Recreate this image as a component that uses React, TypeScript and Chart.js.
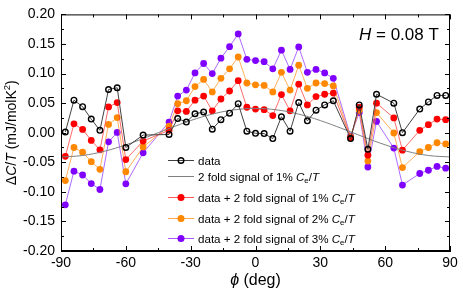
import React, { useEffect, useRef } from "react";
import { Chart, registerables } from "chart.js";
Chart.register(...registerables);

// angle phi (deg)
const angles = [-88, -84, -80, -76, -72, -68, -64, -60, -52, -40, -36, -32, -28, -24, -20, -16, -12, -8, -4, 0, 4, 8, 12, 16, 20, 24, 28, 32, 36, 44, 48, 52, 56, 64, 68, 76, 80, 84, 88];
const dataVals = [0.001, 0.055, 0.044, 0.023, 0.004, 0.073, 0.076, -0.025, -0.004, -0.003, 0.024, 0.018, 0.032, 0.035, 0.006, 0.022, 0.033, 0.049, 0.0025, -0.001, -0.0015, -0.010, 0.027, 0.0025, 0.051, 0.020, 0.038, 0.047, 0.054, -0.010, 0.047, -0.028, 0.065, 0.050, 0.000, 0.040, 0.052, 0.063, 0.063];
const red1 = [-0.040, 0.015, 0.0055, -0.013, -0.029, 0.0435, 0.051, -0.0455, -0.014, 0.004, 0.037, 0.036, 0.055, 0.062, 0.037, 0.057, 0.0705, 0.088, 0.043, 0.040, 0.039, 0.029, 0.0645, 0.037, 0.082, 0.047, 0.061, 0.065, 0.067, -0.0086, 0.043, -0.038, 0.050, 0.025, -0.0295, 0.004, 0.0135, 0.023, 0.022];
const orange2 = [-0.081, -0.025, -0.033, -0.049, -0.062, 0.014, 0.0255, -0.066, -0.024, 0.011, 0.049, 0.054, 0.078, 0.090, 0.069, 0.092, 0.108, 0.128, 0.084, 0.081, 0.080, 0.069, 0.102, 0.072, 0.114, 0.075, 0.084, 0.083, 0.079, -0.007, 0.038, -0.048, 0.034, -0.0005, -0.059, -0.032, -0.025, -0.017, -0.019];
const purple3 = [-0.122, -0.065, -0.0715, -0.086, -0.096, -0.0155, 0.0004, -0.0865, -0.034, 0.018, 0.062, 0.072, 0.101, 0.117, 0.100, 0.126, 0.1455, 0.167, 0.124, 0.122, 0.120, 0.108, 0.1395, 0.107, 0.145, 0.102, 0.107, 0.101, 0.092, -0.006, 0.034, -0.058, 0.019, -0.026, -0.0885, -0.069, -0.0635, -0.057, -0.060];
// smooth 2-fold signal curve
const signalAngles = [-90, -80, -70, -60, -50, -40, -30, -20, -10, 0, 10, 20, 30, 40, 50, 60, 70, 80, 90];
const signalVals = [-0.041, -0.0385, -0.0314, -0.0205, -0.0071, 0.0071, 0.0205, 0.0314, 0.0385, 0.041, 0.0385, 0.0314, 0.0205, 0.0071, -0.0071, -0.0205, -0.0314, -0.0385, -0.041];

const xMajor = [-90, -60, -30, 0, 30, 60, 90];
const xMinor = [-75, -45, -15, 15, 45, 75];
const yMajor = [-0.2, -0.15, -0.1, -0.05, 0, 0.05, 0.1, 0.15, 0.2];
const yMinor = [-0.175, -0.125, -0.075, -0.025, 0.025, 0.075, 0.125, 0.175];

type Seg = { t: string; i?: boolean; sub?: boolean; sup?: boolean };
const legendLabels: Seg[][] = [
  [{ t: "data" }],
  [{ t: "2 fold signal of 1% " }, { t: "C", i: true }, { t: "e", sub: true }, { t: "/" }, { t: "T", i: true }],
  [{ t: "data + 2 fold signal of 1% " }, { t: "C", i: true }, { t: "e", sub: true }, { t: "/" }, { t: "T", i: true }],
  [{ t: "data + 2 fold signal of 2% " }, { t: "C", i: true }, { t: "e", sub: true }, { t: "/" }, { t: "T", i: true }],
  [{ t: "data + 2 fold signal of 3% " }, { t: "C", i: true }, { t: "e", sub: true }, { t: "/" }, { t: "T", i: true }],
];
const yTitle: Seg[] = [{ t: "Δ" }, { t: "C", i: true }, { t: "/" }, { t: "T", i: true }, { t: " (mJ/molK" }, { t: "2", sup: true }, { t: ")" }];
const xTitle: Seg[] = [{ t: "ϕ", i: true }, { t: " (deg)" }];
const fieldLabel: Seg[] = [{ t: "H", i: true }, { t: " = 0.08 T" }];

const FONT = "'Liberation Sans', Arial, sans-serif";

function segFont(s: Seg, size: number) {
  const sz = s.sub || s.sup ? size * 0.68 : size;
  return `${s.i ? "italic " : ""}${sz}px ${FONT}`;
}
function richWidth(ctx: CanvasRenderingContext2D, segs: Seg[], size: number) {
  let w = 0;
  for (const s of segs) {
    ctx.font = segFont(s, size);
    w += ctx.measureText(s.t).width;
  }
  return w;
}
function drawRich(ctx: CanvasRenderingContext2D, segs: Seg[], x: number, y: number, size: number, align: "left" | "center") {
  let cx = align === "center" ? x - richWidth(ctx, segs, size) / 2 : x;
  ctx.textBaseline = "alphabetic";
  ctx.textAlign = "left";
  for (const s of segs) {
    ctx.font = segFont(s, size);
    const dy = s.sub ? size * 0.25 : s.sup ? -size * 0.4 : 0;
    ctx.fillText(s.t, cx, y + dy);
    cx += ctx.measureText(s.t).width;
  }
}

const lineColors = ["#404040", "#808080", "rgba(255,60,60,0.85)", "rgba(255,150,40,0.85)", "rgba(150,60,255,0.85)"];
const pointColors = ["#000000", "#808080", "#ff0000", "#ff8800", "#8000ff"];

const decorPlugin = {
  id: "decor",
  afterDraw(chart: any) {
    const ctx: CanvasRenderingContext2D = chart.ctx;
    const { left, right, top, bottom } = chart.chartArea;
    const xs = chart.scales.x;
    const ys = chart.scales.y;
    ctx.save();
    ctx.strokeStyle = "#000";
    ctx.lineWidth = 1;
    ctx.strokeRect(left + 0.5, top + 0.5, right - left - 1, bottom - top - 1);
    ctx.beginPath();
    const tick = (vals: number[], len: number) => {
      for (const v of vals) {
        const px = Math.round(xs.getPixelForValue(v)) + 0.5;
        ctx.moveTo(px, bottom); ctx.lineTo(px, bottom - len);
        ctx.moveTo(px, top); ctx.lineTo(px, top + len);
      }
    };
    const ytick = (vals: number[], len: number) => {
      for (const v of vals) {
        const py = Math.round(ys.getPixelForValue(v)) + 0.5;
        ctx.moveTo(left, py); ctx.lineTo(left + len, py);
        ctx.moveTo(right, py); ctx.lineTo(right - len, py);
      }
    };
    tick(xMajor, 5); tick(xMinor, 3);
    ytick(yMajor, 5); ytick(yMinor, 3);
    ctx.stroke();

    ctx.fillStyle = "#000";
    // titles
    drawRich(ctx, xTitle, (left + right) / 2, 285, 16, "center");
    ctx.save();
    ctx.translate(16, (top + bottom) / 2);
    ctx.rotate(-Math.PI / 2);
    drawRich(ctx, yTitle, 0, 0, 14, "center");
    ctx.restore();
    drawRich(ctx, fieldLabel, 359, 40, 17, "left");

    // legend
    const rows = [160.5, 176.5, 197.5, 218.5, 238.5];
    legendLabels.forEach((segs, i) => {
      const y = rows[i];
      ctx.strokeStyle = lineColors[i];
      ctx.lineWidth = 1;
      ctx.beginPath();
      ctx.moveTo(168, y); ctx.lineTo(194, y);
      ctx.stroke();
      if (i === 0) {
        ctx.beginPath();
        ctx.arc(181, y, 2.8, 0, Math.PI * 2);
        ctx.strokeStyle = "#000";
        ctx.lineWidth = 1.4;
        ctx.stroke();
      } else if (i > 1) {
        ctx.beginPath();
        ctx.arc(181, y, 3.5, 0, Math.PI * 2);
        ctx.fillStyle = pointColors[i];
        ctx.fill();
      }
      ctx.fillStyle = "#000";
      drawRich(ctx, segs, 198, y + 4, 11.6, "left");
    });
    ctx.restore();
  },
};

export default function App() {
  const ref = useRef<HTMLCanvasElement>(null);
  useEffect(() => {
    if (!ref.current) return;
    const pts = (ys: number[]) => angles.map((a, i) => ({ x: a, y: ys[i] }));
    const filled = (label: string, ys: number[], i: number) => ({
      label,
      data: pts(ys),
      borderColor: lineColors[i],
      borderWidth: 0.9,
      pointRadius: 3.4,
      pointBorderWidth: 0,
      pointBackgroundColor: pointColors[i],
      pointBorderColor: pointColors[i],
      tension: 0,
    });
    const chart = new Chart(ref.current, {
      type: "line",
      data: {
        datasets: [
          {
            label: "data",
            data: pts(dataVals),
            borderColor: lineColors[0],
            borderWidth: 1,
            pointRadius: 2.8,
            pointBorderWidth: 1.4,
            pointBorderColor: "#000",
            pointBackgroundColor: "rgba(0,0,0,0)",
            tension: 0,
          },
          {
            label: "2 fold signal of 1% Ce/T",
            data: signalAngles.map((a, i) => ({ x: a, y: signalVals[i] })),
            borderColor: lineColors[1],
            borderWidth: 1,
            pointRadius: 0,
            tension: 0.4,
          },
          filled("data + 2 fold signal of 1% Ce/T", red1, 2),
          filled("data + 2 fold signal of 2% Ce/T", orange2, 3),
          filled("data + 2 fold signal of 3% Ce/T", purple3, 4),
        ],
      },
      options: {
        animation: false,
        responsive: false,
        maintainAspectRatio: false,
        layout: { padding: { left: 0, top: 11, right: 13, bottom: 0 } },
        plugins: { legend: { display: false }, tooltip: { enabled: false } },
        scales: {
          x: {
            type: "linear",
            min: -90,
            max: 90,
            grid: { display: false, drawTicks: false },
            border: { display: true, color: "#000" },
            ticks: {
              stepSize: 30,
              padding: 4,
              color: "#000",
              font: { family: FONT, size: 14 },
              maxRotation: 0,
              autoSkip: false,
            },
            afterFit: (s: any) => { s.height = 42; },
          },
          y: {
            type: "linear",
            min: -0.2,
            max: 0.2,
            grid: { display: false, drawTicks: false },
            border: { display: true, color: "#000" },
            ticks: {
              stepSize: 0.05,
              padding: 6,
              color: "#000",
              font: { family: FONT, size: 14 },
              callback: (v: any) => (Math.abs(v) < 1e-9 ? "0.00" : Number(v).toFixed(2)),
            },
            afterFit: (s: any) => { s.width = 61; },
          },
        },
      },
      plugins: [decorPlugin],
    });
    return () => chart.destroy();
  }, []);
  return (
    <div style={{ position: "fixed", left: 0, top: 0, width: 463, height: 293, background: "#fff" }}>
      <canvas ref={ref} width={463} height={293} style={{ width: 463, height: 293 }} />
    </div>
  );
}
